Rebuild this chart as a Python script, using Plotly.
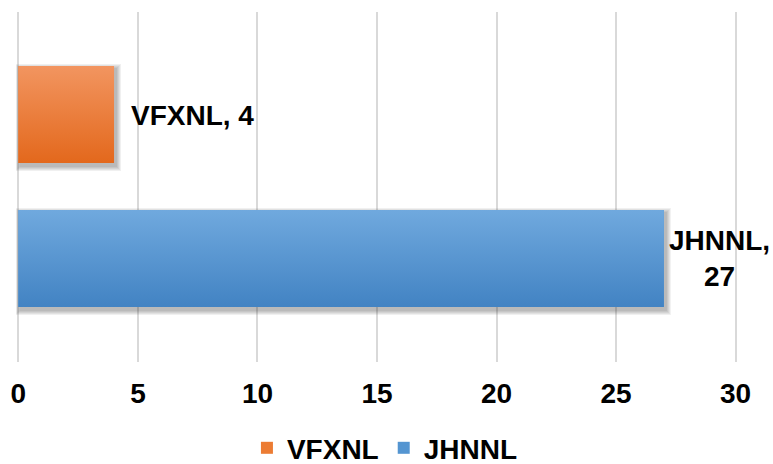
import plotly.graph_objects as go

# Categories listed bottom to top on the vertical axis
categories = ["JHNNL", "VFXNL"]
values = [27, 4]
colors_top = ["#70A9DE", "#F29560"]
colors_bottom = ["#4283C3", "#E3681C"]
colors_mid = ["#5495D1", "#EC7C33"]
legend_order = ["VFXNL", "JHNNL"]
x_ticks = [0, 5, 10, 15, 20, 25, 30]

BAR_W = 0.674
X_RANGE = [-0.1, 30.1]
Y_RANGE = [-0.72, 1.712]
FONT = dict(family="Arial, Liberation Sans, sans-serif", size=28, color="#000000", weight="bold")

W, H = 773, 464
M = dict(l=16, r=35, t=12, b=102, autoexpand=False)
px_x = (W - M["l"] - M["r"]) / (X_RANGE[1] - X_RANGE[0])   # pixels per x unit
px_y = (H - M["t"] - M["b"]) / (Y_RANGE[1] - Y_RANGE[0])   # pixels per category unit

fig = go.Figure()

# soft drop shadow: stacked translucent bars, offset down/right
for i, (cat, val) in enumerate(zip(categories, values)):
    for g in [5, 4, 3, 2, 1]:
        gx = g / px_x
        gy = g / px_y
        dx = 2 / px_x
        dy = 3 / px_y
        fig.add_trace(go.Bar(
            orientation="h", y=[i], x=[val + 2 * gx], base=[dx - gx],
            width=[BAR_W + 2 * gy], offset=[-BAR_W / 2 - gy - dy],
            marker=dict(color="rgba(0,0,0,0.06)", line=dict(width=0)),
            showlegend=False, hoverinfo="skip",
        ))

# main bars (carry the legend entries)
for name in legend_order:
    i = categories.index(name)
    fig.add_trace(go.Bar(
        orientation="h", y=[i], x=[values[i]], width=[BAR_W], name=name,
        marker=dict(color=colors_mid[i], line=dict(width=0)),
        hoverinfo="skip",
    ))

# vertical gradient fill laid over each bar
for i, (cat, val) in enumerate(zip(categories, values)):
    y0, y1 = i - BAR_W / 2, i + BAR_W / 2
    fig.add_trace(go.Scatter(
        x=[0, val, val, 0, 0], y=[y0, y0, y1, y1, y0],
        mode="lines", line=dict(width=0), fill="toself",
        fillgradient=dict(type="vertical",
                          colorscale=[[0, colors_bottom[i]], [1, colors_top[i]]]),
        showlegend=False, hoverinfo="skip",
    ))

# data labels
for i, (cat, val) in enumerate(zip(categories, values)):
    wrap = val > 0.8 * x_ticks[-1]
    text = f"{cat},<br>{val}" if wrap else f"{cat}, {val}"
    fig.add_annotation(
        x=val, y=i, xref="x", yref="y", text=text, showarrow=False,
        xanchor="left", yanchor="middle", align="center",
        xshift=3 if wrap else 15, yshift=0 if wrap else -1,
        font=FONT,
    )

fig.update_layout(
    width=W, height=H, margin=M,
    paper_bgcolor="white", plot_bgcolor="white",
    barmode="overlay",
    font=FONT,
    xaxis=dict(range=X_RANGE, tickvals=x_ticks, showgrid=True, gridcolor="#D9D9D9",
               gridwidth=2, zeroline=False, showline=False, ticks="",
               tickfont=FONT, automargin=False, ticklabelstandoff=12),
    yaxis=dict(range=Y_RANGE, showgrid=False, zeroline=False, showline=False,
               showticklabels=False, ticks="", automargin=False),
    legend=dict(orientation="h", x=0.511, xanchor="center", y=-0.246, yanchor="middle",
                font=FONT, traceorder="normal", itemclick=False),
    showlegend=True,
)

fig.write_html("out.html")
